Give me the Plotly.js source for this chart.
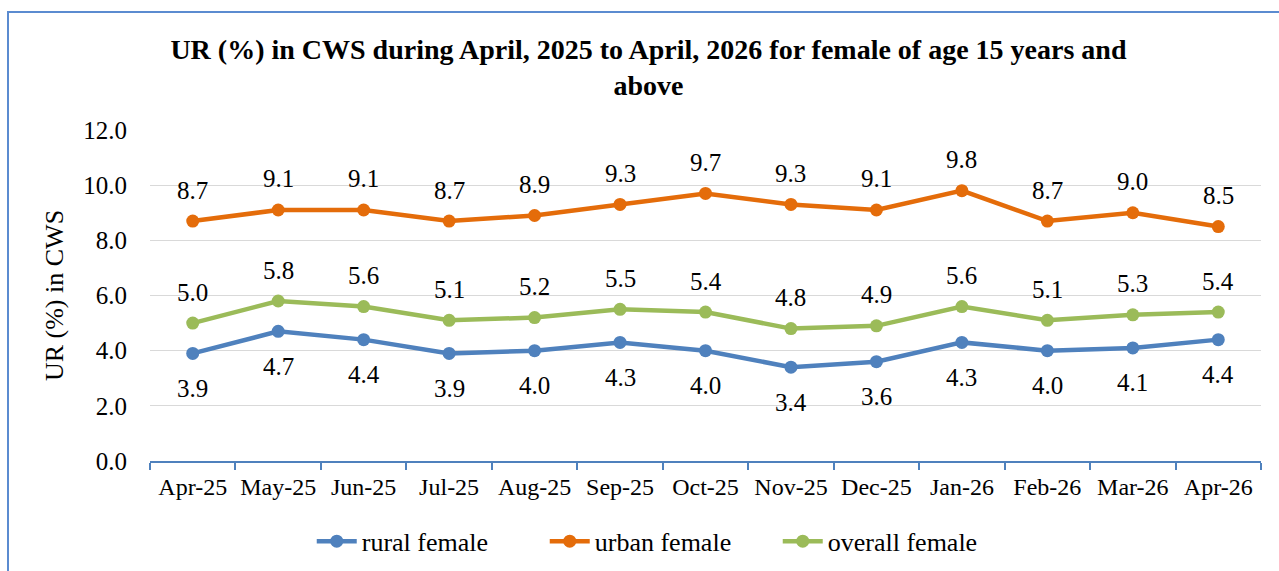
<!DOCTYPE html>
<html>
<head>
<meta charset="utf-8">
<script src="https://cdn.plot.ly/plotly-3.0.1.min.js"></script>
<style>
  html, body { margin: 0; padding: 0; background: #fff; overflow: hidden; }
  #chart { position: absolute; left: 0; top: 0; width: 1279px; height: 571px; }
  #frame { position: absolute; left: 7px; top: 11px; width: 1300px; height: 600px;
           border: 2px solid #5B8BD0; box-sizing: border-box; pointer-events: none; }
</style>
</head>
<body>
<div id="chart"></div>
<div id="frame"></div>
<script>
const months = ["Apr-25","May-25","Jun-25","Jul-25","Aug-25","Sep-25","Oct-25","Nov-25","Dec-25","Jan-26","Feb-26","Mar-26","Apr-26"];
const ruralFemale   = [3.9, 4.7, 4.4, 3.9, 4.0, 4.3, 4.0, 3.4, 3.6, 4.3, 4.0, 4.1, 4.4];
const urbanFemale   = [8.7, 9.1, 9.1, 8.7, 8.9, 9.3, 9.7, 9.3, 9.1, 9.8, 8.7, 9.0, 8.5];
const overallFemale = [5.0, 5.8, 5.6, 5.1, 5.2, 5.5, 5.4, 4.8, 4.9, 5.6, 5.1, 5.3, 5.4];
const yTickVals = [0, 2, 4, 6, 8, 10, 12];
const yTickText = ["0.0","2.0","4.0","6.0","8.0","10.0","12.0"];

const serif = "Liberation Serif";

function series(name, ys, color) {
  return {
    type: "scatter", mode: "lines+markers", name: name,
    x: months, y: ys,
    line: { color: color, width: 4.5 },
    marker: { color: color, size: 13 },
    hoverinfo: "x+y"
  };
}

const data = [
  series("rural female", ruralFemale, "#4F81BD"),
  series("urban female", urbanFemale, "#E46C0A"),
  series("overall female", overallFemale, "#9BBB59")
];

function labels(ys, shift) {
  return ys.map((v, i) => ({
    x: months[i], y: v, xref: "x", yref: "y",
    text: v.toFixed(1), showarrow: false, yshift: shift,
    font: { family: serif, size: 25, color: "#000" }
  }));
}

const annotations = []
  .concat(labels(urbanFemale, 31))
  .concat(labels(overallFemale, 31))
  .concat(labels(ruralFemale, -35));

const layout = {
  width: 1279, height: 571,
  margin: { l: 150, r: 18, t: 130, b: 110 },
  paper_bgcolor: "#fff", plot_bgcolor: "#fff",
  font: { family: serif, color: "#000" },
  showlegend: true,
  title: {
    text: "<b>UR (%) in CWS during April, 2025 to April, 2026 for female of age 15 years and<br>above</b>",
    font: { family: serif, size: 28, color: "#000" },
    xref: "container", yref: "container",
    x: 0.507, xanchor: "center", y: 0.897, yanchor: "middle"
  },
  xaxis: {
    type: "category",
    range: [-0.5, months.length - 0.5],
    tickson: "boundaries",
    tickangle: 0,
    ticks: "outside", ticklen: 7, tickcolor: "#4F81BD", tickwidth: 1.5,
    showline: true, linecolor: "#4F81BD", linewidth: 2,
    showgrid: false, zeroline: false,
    tickfont: { family: serif, size: 24, color: "#000" },
    ticklabelstandoff: 3,
    fixedrange: true
  },
  yaxis: {
    range: [0, 12],
    tickvals: yTickVals, ticktext: yTickText,
    showline: false, ticks: "",
    showgrid: true, gridcolor: "#D9D9D9", gridwidth: 1.3,
    zeroline: false,
    tickfont: { family: serif, size: 25, color: "#000" },
    ticklabelstandoff: 22,
    title: { text: "UR (%) in CWS", font: { family: serif, size: 26, color: "#000" }, standoff: 12 },
    fixedrange: true
  },
  legend: {
    orientation: "h",
    xref: "container", yref: "container",
    x: 0.517, xanchor: "center", y: 0.052, yanchor: "middle",
    font: { family: serif, size: 26, color: "#000" },
    itemwidth: 40, entrywidth: 178, tracegroupgap: 0
  },
  annotations: annotations
};

Plotly.newPlot("chart", data, layout, { displayModeBar: false });
</script>
</body>
</html>
